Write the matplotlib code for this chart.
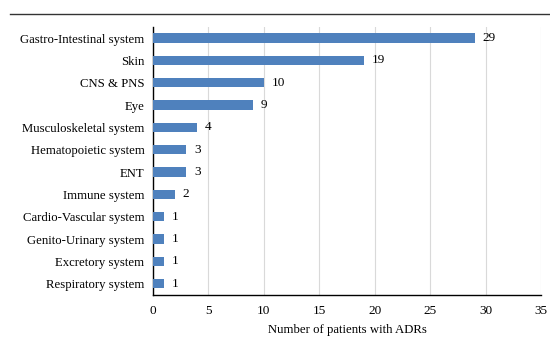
import matplotlib.pyplot as plt
from matplotlib.lines import Line2D

# ADR counts by organ system
systems = ["Gastro-Intestinal system", "Skin", "CNS & PNS", "Eye",
           "Musculoskeletal system", "Hematopoietic system", "ENT",
           "Immune system", "Cardio-Vascular system", "Genito-Urinary system",
           "Excretory system", "Respiratory system"]
patients = [29, 19, 10, 9, 4, 3, 3, 2, 1, 1, 1, 1]
xticks = [0, 5, 10, 15, 20, 25, 30, 35]

plt.rcParams['font.family'] = ['Liberation Serif', 'DejaVu Serif']
plt.rcParams['font.size'] = 9.2

fig = plt.figure(figsize=(5.5, 3.45), dpi=100)
ax = fig.add_axes([0.278, 0.145, 0.706, 0.777])

ypos = list(range(len(systems)))
ax.barh(ypos, patients, height=0.42, color="#4F81BD", zorder=3)
for y, v in zip(ypos, patients):
    ax.text(v + 0.7, y, str(v), va="center", ha="left", fontsize=9.5)

ax.set_yticks(ypos)
ax.set_yticklabels(systems)
ax.set_ylim(len(systems) - 0.5, -0.5)
ax.set_xlim(0, 35)
ax.set_xticks(xticks)
ax.tick_params(length=0, pad=6)
ax.tick_params(axis='x', pad=7, labelsize=9.5)
ax.grid(axis='x', color="#d9d9d9", linewidth=0.8, zorder=0)
ax.set_axisbelow(True)
for s in ["top", "right"]:
    ax.spines[s].set_visible(False)
for s in ["left", "bottom"]:
    ax.spines[s].set_color("black")
    ax.spines[s].set_linewidth(1.0)
ax.set_xlabel("Number of patients with ADRs", labelpad=5)

# rule across the top of the figure
fig.add_artist(Line2D([0.019, 1.0], [0.959, 0.959], color="#333333", linewidth=1.0))

fig.savefig("out.png", dpi=100)
